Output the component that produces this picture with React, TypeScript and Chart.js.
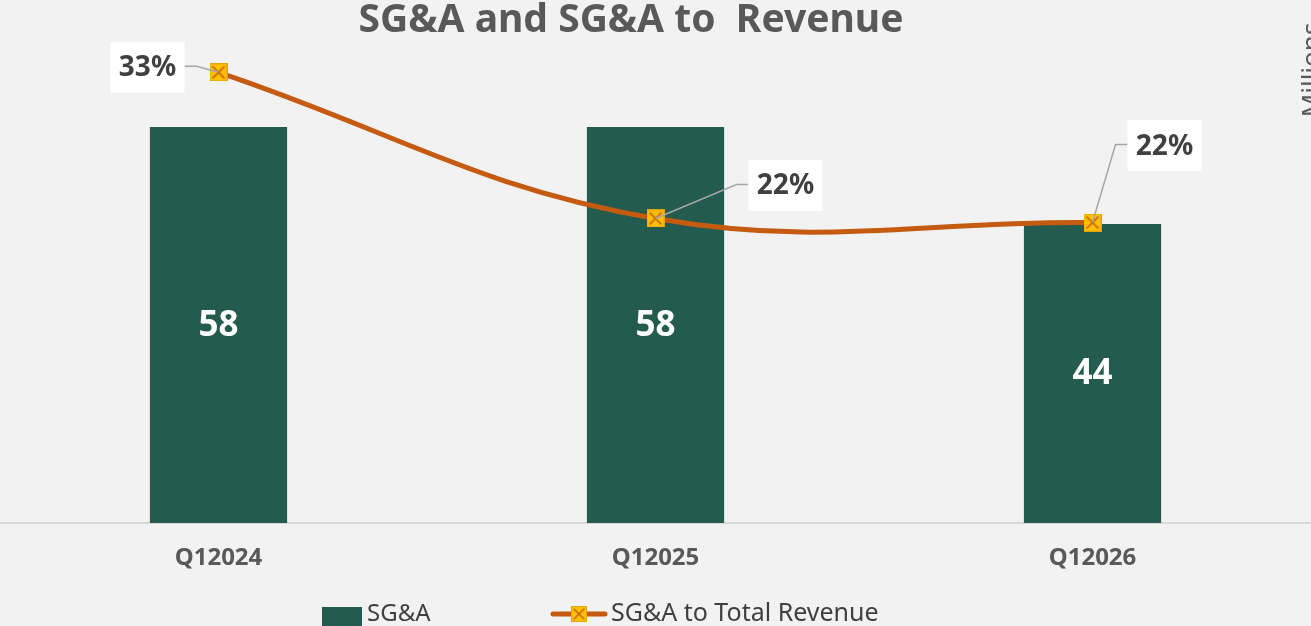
import React, { useEffect, useRef } from "react";
import { Chart, registerables } from "chart.js";

Chart.register(...registerables);

const categories = ["Q12024", "Q12025", "Q12026"];
const sgaValues = [58, 58, 43.8];
const sgaRatio = [0.33, 0.223, 0.22];
const barLabels = ["58", "58", "44"];
const ratioLabels = ["33%", "22%", "22%"];
const leftAxisMax = 70;
const rightAxisMax = 0.35;

const TITLE = "SG&A and SG&A to  Revenue";
const UNIT_LABEL = "Millions";
const LEGEND_BAR = "SG&A";
const LEGEND_LINE = "SG&A to Total Revenue";

// label box offsets relative to the marker (layout only)
const LABEL_OFFSETS = [
  { dx: -71, dy: -5, side: "right" },
  { dx: 130, dy: -33, side: "left" },
  { dx: 72, dy: -77, side: "left" },
];

const FONT = "'Noto Sans', sans-serif";
const BG = "#f2f2f2";
const BAR_COLOR = "#245b4f";
const LINE_COLOR = "#c55a11";
const MARKER_FILL = "#ffc000";
const TEXT_GREY = "#595959";
const LABEL_TEXT = "#404040";

function makeMarker(size: number): HTMLCanvasElement {
  const c = document.createElement("canvas");
  c.width = size;
  c.height = size;
  const g = c.getContext("2d")!;
  g.fillStyle = MARKER_FILL;
  g.fillRect(0, 0, size, size);
  g.strokeStyle = "#e3a600";
  g.lineWidth = 1;
  g.strokeRect(0.5, 0.5, size - 1, size - 1);
  g.strokeStyle = LINE_COLOR;
  g.lineWidth = 1.6;
  g.beginPath();
  g.moveTo(3, 3);
  g.lineTo(size - 3, size - 3);
  g.moveTo(size - 3, 3);
  g.lineTo(3, size - 3);
  g.stroke();
  return c;
}

export default function App() {
  const ref = useRef<HTMLCanvasElement | null>(null);

  useEffect(() => {
    const canvas = ref.current;
    if (!canvas) return;
    const marker = makeMarker(18);

    const decor = {
      id: "decor",
      beforeDraw(chart: any) {
        const ctx = chart.ctx;
        ctx.save();
        ctx.fillStyle = BG;
        ctx.fillRect(0, 0, chart.width, chart.height);
        ctx.restore();
      },
      afterDatasetsDraw(chart: any) {
        const ctx = chart.ctx;
        ctx.save();
        // bar value labels
        const barMeta = chart.getDatasetMeta(1);
        ctx.fillStyle = "#ffffff";
        ctx.font = `bold 35px ${FONT}`;
        ctx.textAlign = "center";
        ctx.textBaseline = "middle";
        barMeta.data.forEach((el: any, i: number) => {
          const cy = (el.y + el.base) / 2;
          ctx.fillText(barLabels[i], el.x, cy + 1);
        });
        // ratio labels with leader lines
        const lineMeta = chart.getDatasetMeta(0);
        lineMeta.data.forEach((pt: any, i: number) => {
          const o = LABEL_OFFSETS[i];
          const bw = 74;
          const bh = 51;
          const cx = pt.x + o.dx;
          const cy = pt.y + o.dy;
          const edgeX = o.side === "right" ? cx + bw / 2 : cx - bw / 2;
          const elbowX = o.side === "right" ? edgeX + 12 : edgeX - 12;
          ctx.strokeStyle = "#a6a6a6";
          ctx.lineWidth = 1.5;
          ctx.beginPath();
          ctx.moveTo(edgeX, cy - 1);
          ctx.lineTo(elbowX, cy - 1);
          ctx.lineTo(pt.x, pt.y);
          ctx.stroke();
          ctx.fillStyle = "#ffffff";
          ctx.fillRect(cx - bw / 2, cy - bh / 2, bw, bh);
          ctx.fillStyle = LABEL_TEXT;
          ctx.font = `bold 28px ${FONT}`;
          ctx.textAlign = "center";
          ctx.textBaseline = "middle";
          ctx.fillText(ratioLabels[i], cx, cy + 1);
        });
        ctx.restore();
      },
      afterDraw(chart: any) {
        const ctx = chart.ctx;
        ctx.save();
        // title
        ctx.fillStyle = TEXT_GREY;
        ctx.font = `bold 39px ${FONT}`;
        ctx.textAlign = "center";
        ctx.textBaseline = "middle";
        ctx.fillText(TITLE, 631, 21);
        // unit label (rotated, cut at the right edge)
        ctx.save();
        ctx.translate(1300, 70);
        ctx.rotate(-Math.PI / 2);
        ctx.font = `26px ${FONT}`;
        ctx.textAlign = "center";
        ctx.textBaseline = "top";
        ctx.fillText(UNIT_LABEL, 0, 0);
        ctx.restore();
        // legend
        const ly = 614;
        ctx.fillStyle = BAR_COLOR;
        ctx.fillRect(322, 607, 40, 22);
        ctx.fillStyle = LABEL_TEXT;
        ctx.font = `24px ${FONT}`;
        ctx.textAlign = "left";
        ctx.textBaseline = "middle";
        ctx.fillText(LEGEND_BAR, 367, ly);
        ctx.strokeStyle = LINE_COLOR;
        ctx.lineWidth = 5;
        ctx.lineCap = "round";
        ctx.beginPath();
        ctx.moveTo(553, ly);
        ctx.lineTo(605, ly);
        ctx.stroke();
        ctx.drawImage(marker, 579 - 8, ly - 8, 16, 16);
        ctx.fillStyle = LABEL_TEXT;
        ctx.font = `25px ${FONT}`;
        ctx.fillText(LEGEND_LINE, 611, ly);
        ctx.restore();
      },
    };

    const chart = new Chart(canvas, {
      type: "bar",
      data: {
        labels: categories,
        datasets: [
          {
            type: "line",
            label: LEGEND_LINE,
            data: sgaRatio,
            yAxisID: "y1",
            borderColor: LINE_COLOR,
            borderWidth: 5,
            tension: 0.4,
            pointStyle: marker as any,
            pointRadius: 9,
            pointHoverRadius: 9,
            order: 0,
          } as any,
          {
            type: "bar",
            label: LEGEND_BAR,
            data: sgaValues,
            yAxisID: "y",
            backgroundColor: BAR_COLOR,
            barPercentage: 0.314,
            categoryPercentage: 1,
            order: 1,
          },
        ],
      },
      options: {
        responsive: false,
        animation: false,
        layout: { autoPadding: false, padding: { top: 45, left: 0, right: 0, bottom: 0 } },
        plugins: {
          legend: { display: false },
          tooltip: { enabled: false },
          title: { display: false },
        },
        scales: {
          x: {
            offset: true,
            grid: { display: false, drawTicks: false },
            border: { display: true, color: "#d9d9d9", width: 2 },
            ticks: {
              color: TEXT_GREY,
              font: { family: FONT, size: 24, weight: "bold" },
              padding: 21,
              maxRotation: 0,
            },
            afterFit: (s: any) => {
              s.height = 103;
            },
          },
          y: { display: false, min: 0, max: leftAxisMax },
          y1: { display: false, min: 0, max: rightAxisMax, position: "right" },
        },
      } as any,
      plugins: [decor],
    });

    return () => chart.destroy();
  }, []);

  return (
    <div style={{ position: "absolute", left: 0, top: 0, width: 1311, height: 626 }}>
      <canvas ref={ref} width={1311} height={626} style={{ display: "block", width: 1311, height: 626 }} />
    </div>
  );
}
